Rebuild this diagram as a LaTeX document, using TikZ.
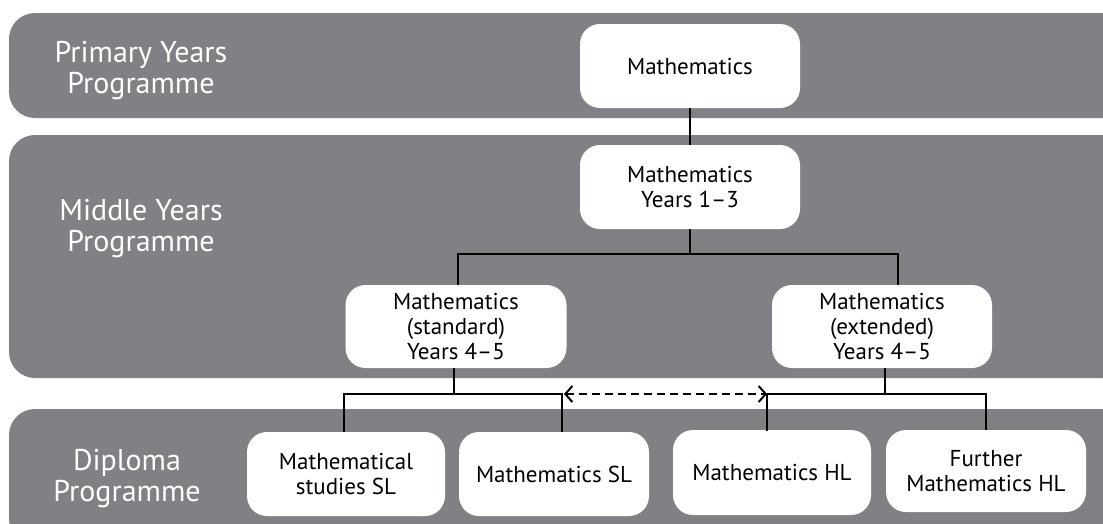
\documentclass[tikz,border=0pt]{standalone}
\usepackage{fontspec}
\setmainfont{PT Sans}
\usetikzlibrary{arrows.meta}
\definecolor{bandgray}{RGB}{128,129,133}
\begin{document}
\begin{tikzpicture}[x=1pt,y=-1pt,
  band/.style={fill=bandgray, rounded corners=26pt},
  lbl/.style={text=white, font=\fontsize{30}{31}\selectfont, align=center, inner sep=0pt},
  box/.style={fill=white, rounded corners=20pt, align=center, font=\fontsize{23}{25}\selectfont, inner sep=0pt},
  conn/.style={line width=2.4pt, black},
  dconn/.style={line width=2pt, black, dash pattern=on 8pt off 5pt, {Straight Barb[length=7pt,width=16pt,line width=2pt]}-{Straight Barb[length=7pt,width=16pt,line width=2pt]}}]
\useasboundingbox (0,0) rectangle (1103,523);
% bands
\fill[band] (9,13) rectangle (1128,118);
\fill[band] (9,135) rectangle (1128,378);
\fill[band] (9,409) rectangle (1128,545);
% band labels
\node[lbl] (pyp) at (141,71) {Primary Years\\Programme};
\node[lbl] (myp) at (141,229) {Middle Years\\Programme};
\node[lbl] (dp) at (127,479) {Diploma\\Programme};
% boxes
\node[box, minimum width=220pt, minimum height=84pt] (m0) at (690,66) {Mathematics};
\node[box, minimum width=220pt, minimum height=84pt] (m1) at (690,187) {Mathematics\\Years 1–3};
\node[box, minimum width=221pt, minimum height=83pt] (std) at (456,326.5) {Mathematics\\(standard)\\Years 4–5};
\node[box, minimum width=220pt, minimum height=83pt] (ext) at (882,326.5) {Mathematics\\(extended)\\Years 4–5};
\node[box, minimum width=198pt, minimum height=84pt] (ms) at (346,474) {Mathematical\\studies SL};
\node[box, minimum width=190pt, minimum height=84pt] (msl) at (554,474) {Mathematics SL};
\node[box, minimum width=198pt, minimum height=85pt] (mhl) at (772,472.5) {Mathematics HL};
\node[box, minimum width=200pt, minimum height=82pt] (fmhl) at (986,471) {Further\\Mathematics HL};
% junction coordinates
\coordinate (j1) at (690,254);
\coordinate (sa) at (458,285);
\coordinate (ea) at (898,285);
\coordinate (j2) at (454,394);
\coordinate (j3) at (885,394);
\coordinate (ta) at (344,432);
\coordinate (tb) at (562,432);
\coordinate (tc) at (767,431);
\coordinate (td) at (986,430);
\coordinate (da) at (562,394);
\coordinate (db) at (767,394);
% connectors
\draw[conn] (m0.south) -- (m1.north);
\draw[conn] (m1.south) -- (j1);
\draw[conn] (sa) |- (j1) -| (ea);
\draw[conn] (std.south -| j2) -- (j2);
\draw[conn] (ta) |- (j2) -| (tb);
\draw[conn] (ext.south -| j3) -- (j3);
\draw[conn] (tc) |- (j3) -| (td);
\draw[dconn] ([xshift=2pt]da) -- (db);
\end{tikzpicture}
\end{document}
